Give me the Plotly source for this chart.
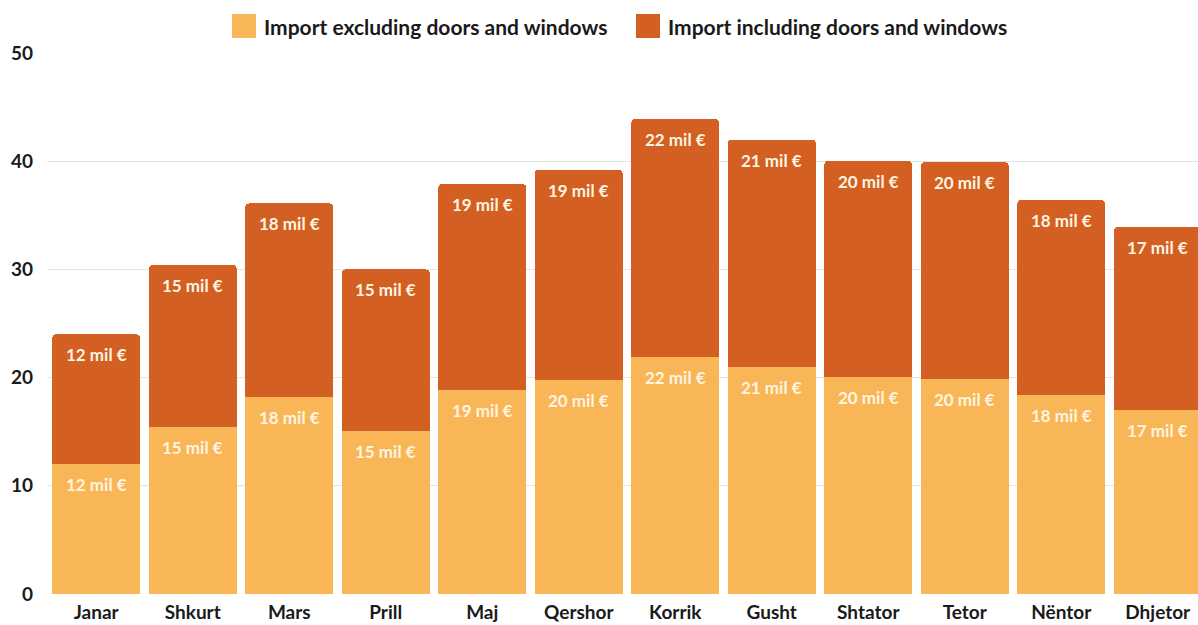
import plotly.graph_objects as go

# Monthly import values (millions of euro)
months = ["Janar", "Shkurt", "Mars", "Prill", "Maj", "Qershor",
          "Korrik", "Gusht", "Shtator", "Tetor", "Nëntor", "Dhjetor"]
excl_doors_windows = [12.0, 15.4, 18.2, 15.1, 18.9, 19.8, 21.9, 21.0, 20.1, 19.9, 18.4, 17.0]
incl_doors_windows = [12.0, 15.0, 17.9, 14.9, 19.0, 19.4, 22.0, 21.0, 19.9, 20.0, 18.0, 16.9]
series_names = ["Import excluding doors and windows", "Import including doors and windows"]
y_ticks = [0, 10, 20, 30, 40, 50]

LIGHT = "#F9B656"
DARK = "#D35F22"
LABEL = "#FFF4E2"
FONT = "Lato"

fig = go.Figure()
fig.add_trace(go.Bar(x=months, y=excl_doors_windows, name=series_names[0],
                     marker=dict(color=LIGHT, line=dict(width=0)), showlegend=False))
fig.add_trace(go.Bar(x=months, y=incl_doors_windows, name=series_names[1],
                     marker=dict(color=DARK, line=dict(width=0)), showlegend=False))

# Value labels just below the top edge of each segment
annotations = []
for m, lo, hi in zip(months, excl_doors_windows, incl_doors_windows):
    for top, val in ((lo, lo), (lo + hi, hi)):
        annotations.append(dict(
            x=m, y=top, xref="x", yref="y", yanchor="top", yshift=-8,
            text=f"{round(val):.0f} mil €", showarrow=False,
            font=dict(family=FONT, size=17, color=LABEL, weight="bold"),
        ))

# Legend row drawn above the plot
shapes = []
legend_items = [(series_names[0], LIGHT, 232), (series_names[1], DARK, 636)]
for name, color, px in legend_items:
    x0 = (px - 48) / 1150
    x1 = (px + 24 - 48) / 1150
    shapes.append(dict(type="rect", xref="paper", yref="paper",
                       x0=x0, x1=x1, y0=(594 - 38) / 541, y1=(594 - 14) / 541,
                       fillcolor=color, line=dict(width=0)))
    annotations.append(dict(
        x=(px + 30 - 48) / 1150, y=(594 - 26) / 541, xref="paper", yref="paper",
        xanchor="left", yanchor="middle", text=name, showarrow=False,
        font=dict(family=FONT, size=21, color="#1a1a1a", weight="bold"),
    ))

fig.update_layout(
    width=1198, height=625,
    margin=dict(l=48, r=0, t=53, b=31),
    paper_bgcolor="white", plot_bgcolor="white",
    barmode="stack", bargap=0.09, barcornerradius=4,
    showlegend=False,
    font=dict(family=FONT, color="#1a1a1a"),
    annotations=annotations, shapes=shapes,
    xaxis=dict(range=[-0.5, 11.417], showgrid=False, zeroline=False, showline=False,
               ticks="", ticklabelstandoff=5,
               tickfont=dict(family=FONT, size=19, color="#1a1a1a", weight="bold")),
    yaxis=dict(range=[0, 50], tickvals=y_ticks, showgrid=True, gridcolor="#E4E4E4",
               gridwidth=1, zeroline=False, showline=False, ticks="",
               ticklabelstandoff=14,
               tickfont=dict(family=FONT, size=19, color="#1a1a1a", weight="bold")),
)

fig.write_html("out.html")
